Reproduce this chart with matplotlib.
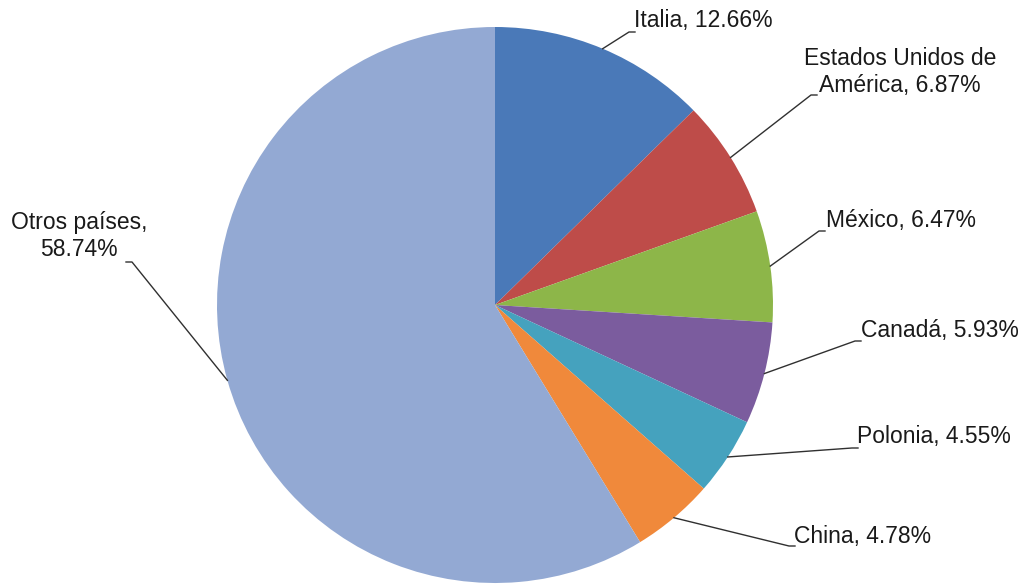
import matplotlib.pyplot as plt
import numpy as np

paises = ["Italia", "Estados Unidos de\nAmérica", "México", "Canadá",
          "Polonia", "China", "Otros países,\n"]
porcentajes = [12.66, 6.87, 6.47, 5.93, 4.55, 4.78, 58.74]
colores = ["#4A79B8", "#BE4C49", "#8DB649", "#7B5C9E", "#45A2BE",
           "#F0893B", "#93A9D3"]

# posicion de cada etiqueta (texto) y codo de la linea guia, en pixeles
etiquetas_xy = [(634, 21), (900, 72), (826, 220), (861, 330),
                (857, 437), (794, 536), (79, 236)]
codos_xy = [(629, 32), (811, 95), (819, 231), (855, 341),
            (852, 448), (789, 546), (132, 262)]
alineacion = ["left", "center", "left", "left", "left", "left", "center"]

plt.rcParams['font.family'] = ['Liberation Sans', 'DejaVu Sans']

W, H = 1030, 585
fig = plt.figure(figsize=(W / 100, H / 100), dpi=100)
ax = fig.add_axes([0, 0, 1, 1])

cx, cy, r = 495, H - 305, 278
wedges, _ = ax.pie(porcentajes, colors=colores, startangle=90, counterclock=False,
                   radius=r, center=(cx, cy), frame=True,
                   wedgeprops=dict(linewidth=0))
ax.set_xlim(0, W)
ax.set_ylim(0, H)
ax.axis("off")

for w, nombre, pct, (tx, ty), (kx, ky), ha in zip(wedges, paises, porcentajes,
                                                  etiquetas_xy, codos_xy, alineacion):
    ang = np.deg2rad((w.theta1 + w.theta2) / 2)
    ex, ey = cx + r * np.cos(ang), cy + r * np.sin(ang)
    ky = H - ky
    # tramo horizontal corto hacia el texto
    hx = kx + 6 if kx > cx else kx - 6
    ax.plot([ex, kx, hx], [ey, ky, ky], color="#303030", lw=1.0)
    if nombre.endswith(",\n"):
        texto = f"{nombre}{pct:.2f}%"
    else:
        texto = f"{nombre}, {pct:.2f}%"
    ax.text(tx, H - ty, texto, ha=ha, va="center", fontsize=16.5,
            color="#1a1a1a", linespacing=1.2)

fig.savefig("out.png", dpi=100)
plt.close(fig)
